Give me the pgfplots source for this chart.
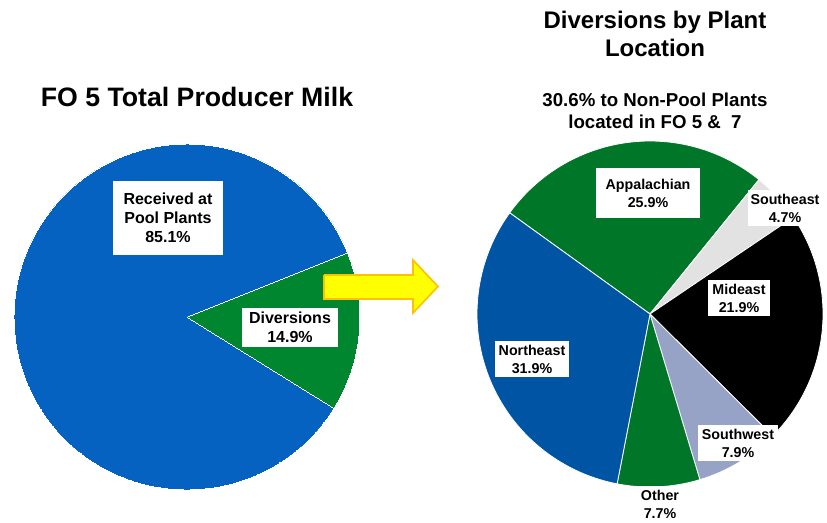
\documentclass[border=0pt]{standalone}
\usepackage{pgfplots}
\pgfplotsset{compat=1.18}
\usepackage{fontspec}
\setmainfont{Liberation Sans}

\definecolor{blueL}{RGB}{6,98,192}
\definecolor{greenL}{RGB}{0,134,46}
\definecolor{blueR}{RGB}{0,84,164}
\definecolor{greenR}{RGB}{0,118,40}
\definecolor{greyR}{RGB}{226,226,226}
\definecolor{swR}{RGB}{150,163,198}
\definecolor{arrowfill}{RGB}{255,255,0}
\definecolor{arrowline}{RGB}{255,192,0}

% pie radius on the canvas (173 px)
\def\R{129.75pt}

% #1,#2 centre (axis units), #3 start angle, #4 list value/colour (clockwise),
% #5 border width
\newcommand\drawpie[5]{%
  \xdef\cur{#3}%
  \foreach \v/\c in {#4} {%
    \pgfmathsetmacro\nxt{\cur-3.6*\v}%
    \edef\tmp{\noexpand\fill[\c,draw=white,line width=#5] (axis cs:#1,#2) -- ++(\cur:\R)
      arc[start angle=\cur,end angle=\nxt,radius=\R] -- cycle;}%
    \tmp
    \xdef\cur{\nxt}%
  }%
}

\begin{document}
\begin{tikzpicture}
\begin{axis}[
  x=0.75pt, y=0.75pt,
  xmin=0, xmax=827, ymin=0, ymax=522,
  hide axis, clip=false,
  every node/.append style={font=\bfseries},
]
\coordinate (sw) at (axis cs:0,0);
\coordinate (ne) at (axis cs:827,522);

% left pie: FO 5 total producer milk
\drawpie{187}{205}{21.8}{14.9/greenL,85.1/blueL}{0pt}

% right pie: diversions by plant location
\drawpie{650}{208}{144.2}{25.9/greenR,4.7/greyR,21.9/black,7.9/swR,7.7/greenR,31.9/blueR}{0.6pt}

% arrow
\addplot[fill=arrowfill, draw=arrowline, line width=1.2pt] coordinates {
  (324,247) (413,247) (413,262) (438,235.5) (413,209) (413,223) (324,223) (324,247)
};

% titles
\node[font=\fontsize{20}{24}\selectfont\bfseries] at (axis cs:197,425) {FO 5 Total Producer Milk};
\node[font=\fontsize{18}{21}\selectfont\bfseries, align=center] at (axis cs:655,488)
  {Diversions by Plant\\Location};
\node[font=\fontsize{14}{16.5}\selectfont\bfseries, align=center] at (axis cs:655,411)
  {30.6\% to Non-Pool Plants\\located in FO 5 \& \ 7};

% left labels
\node[fill=white, align=center, inner xsep=8pt, inner ysep=9pt,
      font=\fontsize{12}{14.25}\selectfont\bfseries] at (axis cs:168,304)
  {Received at\\Pool Plants\\85.1\%};
\node[fill=white, align=center, inner xsep=5pt, inner ysep=3pt,
      font=\fontsize{12}{14.25}\selectfont\bfseries] at (axis cs:290,194.5)
  {Diversions\\14.9\%};

% right labels
\tikzset{lab/.style={fill=white, align=center, inner xsep=3pt, inner ysep=2.5pt,
      font=\fontsize{10.7}{13.5}\selectfont\bfseries}}
\node[lab, inner xsep=7pt, inner ysep=8pt] at (axis cs:648,329) {Appalachian\\25.9\%};
\node[lab, inner xsep=2pt] at (axis cs:785,314) {Southeast\\4.7\%};
\node[lab] at (axis cs:739,224) {Mideast\\21.9\%};
\node[lab] at (axis cs:532,163) {Northeast\\31.9\%};
\node[lab] at (axis cs:738,79) {Southwest\\7.9\%};
\node[lab] at (axis cs:660,18) {Other\\7.7\%};
\end{axis}
\pgfresetboundingbox
\path (sw) rectangle (ne);
\end{tikzpicture}
\end{document}
